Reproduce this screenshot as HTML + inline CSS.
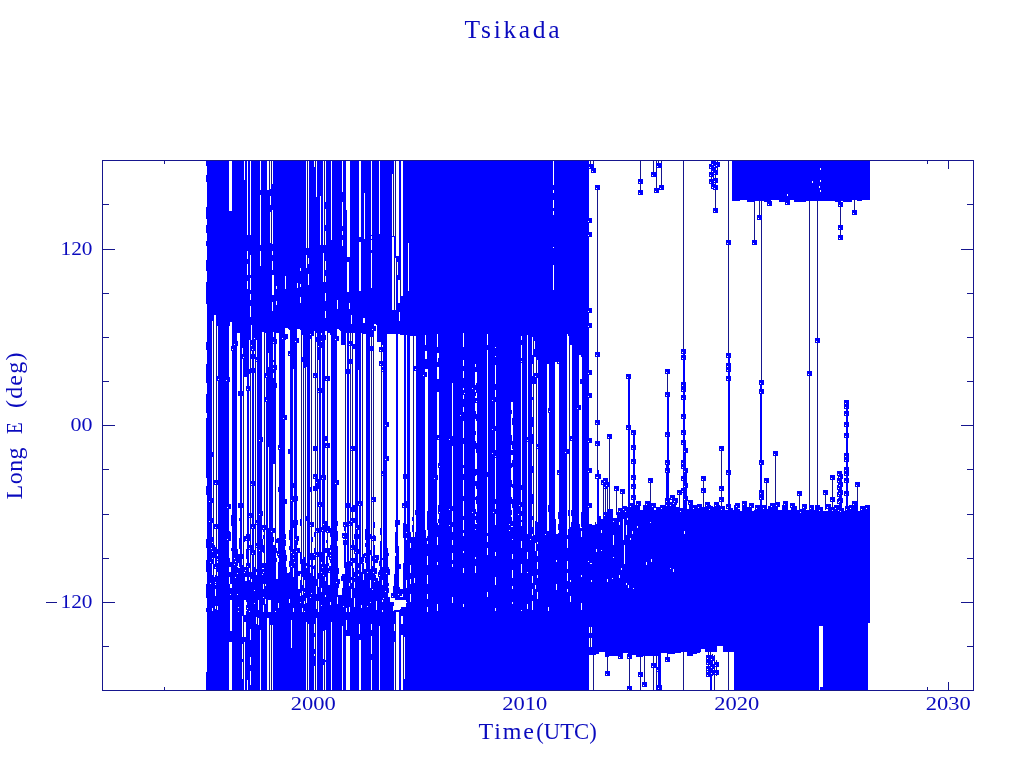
<!DOCTYPE html>
<html><head><meta charset="utf-8"><title>Tsikada</title>
<style>html,body{margin:0;padding:0;background:#fff}body{width:1024px;height:768px;overflow:hidden;font-family:"Liberation Serif",serif}svg{display:block;will-change:transform}text{font-family:"Liberation Serif",serif;fill:#0a0abe}</style></head><body>
<svg width="1024" height="768" viewBox="0 0 1024 768">
<rect width="1024" height="768" fill="#fff"/>
<g shape-rendering="crispEdges">
<path fill="#16168e" d="M102 646h7v1h-7zM967 646h7v1h-7zM102 602h13v1h-13zM961 602h13v1h-13zM102 558h7v1h-7zM967 558h7v1h-7zM102 514h7v1h-7zM967 514h7v1h-7zM102 469h7v1h-7zM967 469h7v1h-7zM102 425h13v1h-13zM961 425h13v1h-13zM102 381h7v1h-7zM967 381h7v1h-7zM102 337h7v1h-7zM967 337h7v1h-7zM102 293h7v1h-7zM967 293h7v1h-7zM102 249h13v1h-13zM961 249h13v1h-13zM102 204h7v1h-7zM967 204h7v1h-7zM164 687h1v3h-1zM164 161h1v3h-1zM927 687h1v3h-1zM927 161h1v3h-1zM313 682h1v8h-1zM313 161h1v8h-1zM525 682h1v8h-1zM525 161h1v8h-1zM737 682h1v8h-1zM737 161h1v8h-1zM948 682h1v8h-1zM948 161h1v8h-1z"/>
<path fill="#0000ff" d="M206 394h1v19h-1zM206 584h1v14h-1zM206 260h1v11h-1zM206 364h1v19h-1zM206 486h1v9h-1zM206 207h1v12h-1zM206 342h1v8h-1zM206 539h1v9h-1zM206 560h1v12h-1zM206 241h1v5h-1zM206 672h1v18h-1zM206 175h1v7h-1zM206 161h1v5h-1zM206 418h1v60h-1zM206 225h1v8h-1zM206 608h1v4h-1zM206 282h1v22h-1zM207 161h2v529h-2zM209 161h1v340h-1zM209 502h1v19h-1zM209 522h1v168h-1zM210 161h1v401h-1zM210 584h1v106h-1zM210 563h1v20h-1zM211 161h1v387h-1zM211 549h1v141h-1zM212 559h1v5h-1zM212 552h1v6h-1zM212 575h1v33h-1zM212 543h1v8h-1zM212 611h1v79h-1zM212 498h2v5h-2zM212 452h2v5h-2zM212 518h2v5h-2zM212 537h2v5h-2zM212 161h2v160h-2zM213 559h1v10h-1zM213 575h1v115h-1zM213 543h1v15h-1zM213 480h2v5h-2zM213 524h2v5h-2zM214 564h1v5h-1zM214 577h1v113h-1zM214 545h1v13h-1zM214 161h2v154h-2zM215 575h1v7h-1zM215 568h1v1h-1zM215 596h1v10h-1zM215 484h1v1h-1zM215 524h1v3h-1zM215 583h1v1h-1zM215 585h1v4h-1zM215 547h1v20h-1zM215 528h1v1h-1zM215 480h1v3h-1zM215 609h2v81h-2zM216 547h1v25h-1zM216 575h1v31h-1zM216 161h2v165h-2zM216 480h2v5h-2zM216 376h2v5h-2zM216 524h2v5h-2zM217 556h1v3h-1zM217 563h1v9h-1zM217 610h1v80h-1zM217 576h1v30h-1zM217 560h1v1h-1zM217 549h1v5h-1zM218 161h1v218h-1zM218 380h1v310h-1zM219 161h7v529h-7zM226 161h1v219h-1zM226 381h1v309h-1zM227 161h1v346h-1zM227 540h1v150h-1zM227 508h1v31h-1zM228 161h1v529h-1zM229 211h1v115h-1zM229 572h1v5h-1zM229 584h1v58h-1zM229 377h1v5h-1zM229 558h1v9h-1zM229 531h1v10h-1zM229 504h2v5h-2zM230 562h1v5h-1zM230 588h1v6h-1zM230 572h1v12h-1zM230 595h1v5h-1zM230 532h1v9h-1zM230 211h2v111h-2zM230 631h2v11h-2zM231 350h1v1h-1zM231 548h1v3h-1zM231 562h1v22h-1zM231 588h1v12h-1zM231 346h1v3h-1zM231 515h1v11h-1zM232 161h1v188h-1zM232 350h1v340h-1zM233 161h1v529h-1zM234 559h1v5h-1zM234 345h1v213h-1zM234 161h1v183h-1zM234 565h1v125h-1zM235 578h1v112h-1zM235 562h1v15h-1zM235 161h1v400h-1zM236 161h1v529h-1zM237 567h1v6h-1zM237 549h1v17h-1zM237 574h1v20h-1zM237 341h1v5h-1zM237 595h1v95h-1zM238 554h1v9h-1zM238 608h1v3h-1zM238 568h1v39h-1zM238 612h1v78h-1zM237 161h3v172h-3zM238 391h2v5h-2zM238 503h2v5h-2zM239 538h1v11h-1zM239 568h1v122h-1zM239 518h1v3h-1zM239 554h1v13h-1zM240 161h2v529h-2zM242 161h1v187h-1zM242 565h1v51h-1zM242 354h1v5h-1zM242 391h2v5h-2zM242 554h2v5h-2zM242 659h2v3h-2zM242 679h2v11h-2zM242 503h2v5h-2zM242 637h2v7h-2zM243 358h1v19h-1zM243 161h1v196h-1zM243 565h1v57h-1zM243 536h2v6h-2zM244 567h1v5h-1zM244 637h1v5h-1zM244 180h1v197h-1zM244 573h1v27h-1zM244 615h2v7h-2zM245 567h1v3h-1zM245 536h1v5h-1zM245 581h1v19h-1zM245 637h1v53h-1zM245 571h1v6h-1zM245 161h2v216h-2zM246 540h1v1h-1zM246 605h1v3h-1zM246 386h1v3h-1zM246 549h1v10h-1zM246 581h1v21h-1zM246 609h1v1h-1zM246 567h1v10h-1zM246 390h1v1h-1zM246 534h1v5h-1zM246 611h1v79h-1zM246 563h1v3h-1zM247 275h1v6h-1zM247 567h1v41h-1zM247 390h1v176h-1zM247 259h1v5h-1zM247 235h1v16h-1zM247 289h1v100h-1zM247 609h1v71h-1zM248 161h1v529h-1zM249 369h1v5h-1zM249 580h1v31h-1zM249 549h1v1h-1zM249 517h1v1h-1zM249 161h1v179h-1zM249 513h1v3h-1zM249 572h1v5h-1zM249 612h1v78h-1zM249 545h1v3h-1zM249 534h2v7h-2zM249 563h2v5h-2zM249 386h2v5h-2zM250 580h1v49h-1zM250 300h1v6h-1zM250 235h1v20h-1zM250 685h1v5h-1zM250 640h1v17h-1zM250 290h1v4h-1zM250 665h1v6h-1zM250 317h1v28h-1zM250 275h1v3h-1zM250 368h1v6h-1zM250 572h2v7h-2zM250 354h2v5h-2zM250 485h2v1h-2zM250 545h2v10h-2zM250 524h2v5h-2zM250 481h2v3h-2zM250 346h2v5h-2zM250 513h2v5h-2zM251 368h1v5h-1zM251 161h1v164h-1zM251 582h1v108h-1zM251 340h1v5h-1zM252 554h1v136h-1zM252 161h1v188h-1zM252 528h1v25h-1zM252 350h1v177h-1zM253 161h1v529h-1zM254 161h1v177h-1zM254 339h1v12h-1zM254 604h1v86h-1zM254 354h1v5h-1zM254 567h1v23h-1zM254 591h1v12h-1zM254 368h2v5h-2zM254 550h2v5h-2zM254 481h2v5h-2zM254 524h2v5h-2zM255 161h1v190h-1zM255 354h1v6h-1zM255 567h1v123h-1zM255 361h2v1h-2zM255 543h2v3h-2zM255 520h2v3h-2zM255 547h2v1h-2zM256 524h1v1h-1zM256 357h1v3h-1zM256 575h1v42h-1zM256 569h1v3h-1zM256 161h1v179h-1zM256 624h2v66h-2zM257 161h1v457h-1zM258 610h1v8h-1zM258 625h1v65h-1zM258 161h1v439h-1zM259 515h1v35h-1zM259 161h1v279h-1zM259 551h1v139h-1zM259 441h1v73h-1zM260 190h1v5h-1zM260 245h1v6h-1zM260 266h1v364h-1zM261 161h1v529h-1zM262 437h1v5h-1zM262 569h1v5h-1zM262 539h1v13h-1zM262 525h1v5h-1zM262 575h1v115h-1zM262 511h1v5h-1zM262 161h2v171h-2zM262 563h2v5h-2zM263 529h1v3h-1zM263 589h1v8h-1zM263 598h1v7h-1zM263 569h1v3h-1zM263 573h1v11h-1zM263 525h1v3h-1zM263 612h1v78h-1zM263 535h2v4h-2zM263 545h2v8h-2zM264 586h1v104h-1zM264 525h1v7h-1zM264 373h2v5h-2zM264 563h2v21h-2zM264 161h2v172h-2zM264 397h2v5h-2zM265 586h1v13h-1zM265 525h1v5h-1zM265 604h1v86h-1zM266 401h1v289h-1zM266 377h1v23h-1zM266 161h1v215h-1zM267 190h1v428h-1zM268 528h1v72h-1zM268 612h1v6h-1zM268 190h1v163h-1zM268 367h1v80h-1zM269 189h1v411h-1zM269 612h2v13h-2zM270 189h1v7h-1zM270 205h1v7h-1zM270 243h1v357h-1zM271 184h1v28h-1zM271 243h1v288h-1zM271 532h1v93h-1zM272 311h1v314h-1zM272 295h1v7h-1zM272 244h1v7h-1zM272 184h1v26h-1zM272 270h1v5h-1zM272 255h1v6h-1zM273 343h1v1h-1zM273 369h1v4h-1zM273 378h1v86h-1zM273 537h1v5h-1zM273 161h1v114h-1zM273 365h1v3h-1zM273 295h1v37h-1zM273 360h1v2h-1zM273 337h1v5h-1zM273 545h2v145h-2zM273 528h3v5h-3zM274 161h2v303h-2zM275 545h1v66h-1zM275 612h1v78h-1zM275 539h2v4h-2zM276 558h1v4h-1zM276 365h1v5h-1zM276 161h1v125h-1zM276 383h1v5h-1zM276 305h1v28h-1zM276 339h1v5h-1zM276 548h1v5h-1zM276 289h1v12h-1zM276 579h2v111h-2zM277 555h1v1h-1zM277 538h1v5h-1zM277 551h1v3h-1zM277 161h2v172h-2zM278 555h1v3h-1zM278 487h1v5h-1zM278 449h1v1h-1zM278 608h1v82h-1zM278 562h1v41h-1zM278 445h1v3h-1zM278 538h1v16h-1zM279 161h1v287h-1zM279 449h1v241h-1zM280 161h2v529h-2zM282 161h1v177h-1zM282 339h1v351h-1zM283 161h1v257h-1zM283 419h1v271h-1zM284 161h1v529h-1zM285 334h1v6h-1zM285 534h1v5h-1zM285 161h1v115h-1zM285 289h1v39h-1zM285 540h1v6h-1zM285 550h1v140h-1zM285 499h2v5h-2zM285 415h2v5h-2zM286 567h1v123h-1zM286 555h1v6h-1zM286 161h2v167h-2zM286 334h2v5h-2zM287 573h2v117h-2zM288 161h1v168h-1zM288 351h2v3h-2zM288 355h2v1h-2zM288 449h2v5h-2zM289 572h1v27h-1zM289 530h1v10h-1zM289 561h1v6h-1zM289 546h1v4h-1zM289 603h1v87h-1zM289 161h1v169h-1zM290 553h1v137h-1zM290 161h2v339h-2zM290 501h2v51h-2zM291 567h1v53h-1zM291 553h1v13h-1zM291 648h1v42h-1zM292 161h1v529h-1zM293 577h1v31h-1zM293 496h1v6h-1zM293 483h1v5h-1zM293 559h1v9h-1zM293 161h1v208h-1zM293 520h1v8h-1zM293 555h1v3h-1zM293 549h1v5h-1zM293 612h1v78h-1zM294 563h1v127h-1zM294 540h1v22h-1zM294 161h1v378h-1zM295 540h1v150h-1zM295 342h1v197h-1zM295 161h1v180h-1zM296 161h1v390h-1zM296 552h1v138h-1zM297 536h1v9h-1zM297 548h1v142h-1zM297 161h1v122h-1zM297 496h1v5h-1zM297 288h1v41h-1zM297 520h1v5h-1zM297 338h2v5h-2zM298 536h1v5h-1zM298 161h2v168h-2zM298 571h2v5h-2zM298 589h2v101h-2zM298 548h2v5h-2zM300 271h1v13h-1zM300 287h1v10h-1zM300 552h1v12h-1zM300 603h1v87h-1zM300 596h1v6h-1zM300 303h1v27h-1zM300 571h1v3h-1zM300 161h1v107h-1zM300 580h2v13h-2zM300 519h2v7h-2zM301 595h1v95h-1zM301 552h1v25h-1zM301 161h2v174h-2zM301 357h2v5h-2zM302 595h1v13h-1zM302 585h1v6h-1zM302 559h1v18h-1zM303 593h1v18h-1zM303 585h1v7h-1zM302 612h3v78h-3zM303 557h2v23h-2zM304 588h1v4h-1zM304 604h1v7h-1zM304 593h1v8h-1zM303 161h3v207h-3zM305 603h1v87h-1zM305 557h1v44h-1zM305 516h2v5h-2zM306 568h1v30h-1zM306 248h1v7h-1zM306 268h1v99h-1zM306 603h1v19h-1zM306 563h1v3h-1zM307 264h1v360h-1zM307 248h2v10h-2zM308 285h1v339h-1zM308 264h1v10h-1zM309 161h1v529h-1zM310 522h1v3h-1zM310 598h1v92h-1zM310 335h1v4h-1zM310 526h1v1h-1zM310 553h1v7h-1zM310 161h1v173h-1zM310 573h1v24h-1zM310 565h1v2h-1zM310 487h2v5h-2zM311 553h1v40h-1zM311 594h1v96h-1zM311 161h1v178h-1zM311 537h2v5h-2zM312 553h1v137h-1zM311 522h3v5h-3zM312 161h2v175h-2zM313 566h1v3h-1zM313 553h1v7h-1zM313 576h1v114h-1zM313 474h2v3h-2zM313 478h2v1h-2zM313 373h2v3h-2zM313 486h2v5h-2zM313 377h2v1h-2zM314 555h1v5h-1zM314 548h1v6h-1zM314 167h1v164h-1zM314 649h2v5h-2zM314 565h2v59h-2zM314 532h2v5h-2zM314 633h2v4h-2zM314 656h2v10h-2zM315 548h1v12h-1zM315 167h1v166h-1zM315 528h2v3h-2zM315 474h2v8h-2zM315 483h2v8h-2zM315 337h2v5h-2zM316 609h1v9h-1zM316 197h1v136h-1zM316 579h1v7h-1zM316 594h1v7h-1zM316 532h1v1h-1zM316 556h1v1h-1zM316 552h1v3h-1zM313 446h5v5h-5zM315 373h3v5h-3zM317 573h1v13h-1zM317 474h1v17h-1zM317 609h1v81h-1zM317 392h2v1h-2zM317 552h2v5h-2zM317 587h2v14h-2zM317 347h2v13h-2zM317 528h2v5h-2zM317 388h2v3h-2zM317 161h2v185h-2zM317 502h2v5h-2zM318 479h1v10h-1zM318 573h1v6h-1zM318 612h1v78h-1zM319 506h1v184h-1zM319 161h1v344h-1zM320 245h1v445h-1zM320 161h1v35h-1zM321 527h1v5h-1zM321 592h1v13h-1zM321 342h1v6h-1zM321 564h1v8h-1zM321 606h1v84h-1zM321 573h1v15h-1zM321 335h1v6h-1zM321 502h1v5h-1zM321 552h1v10h-1zM321 475h1v5h-1zM321 161h1v172h-1zM321 388h1v5h-1zM322 525h1v5h-1zM322 479h1v45h-1zM322 568h1v122h-1zM322 161h1v317h-1zM322 531h1v36h-1zM323 576h1v55h-1zM323 525h1v50h-1zM323 282h1v242h-1zM323 245h1v8h-1zM323 659h2v6h-2zM324 282h1v349h-1zM324 245h2v16h-2zM324 225h2v6h-2zM324 270h2v6h-2zM324 202h2v7h-2zM325 581h1v14h-1zM325 282h1v11h-1zM325 318h1v13h-1zM325 597h1v33h-1zM325 301h1v10h-1zM325 376h1v5h-1zM325 475h1v5h-1zM325 521h1v11h-1zM325 335h1v5h-1zM325 443h1v5h-1zM325 660h1v2h-1zM325 564h1v13h-1zM325 548h2v5h-2zM326 376h1v3h-1zM326 443h1v3h-1zM326 521h1v12h-1zM326 556h1v134h-1zM326 161h1v170h-1zM326 447h1v1h-1zM326 380h1v1h-1zM325 436h3v5h-3zM326 540h2v3h-2zM327 521h1v10h-1zM327 548h1v142h-1zM327 532h1v1h-1zM328 548h1v9h-1zM328 568h1v5h-1zM328 563h1v3h-1zM327 376h3v5h-3zM327 161h3v172h-3zM327 443h3v5h-3zM328 526h2v7h-2zM328 585h2v105h-2zM329 559h1v1h-1zM329 572h1v1h-1zM329 566h1v5h-1zM329 548h1v10h-1zM330 566h1v36h-1zM330 161h1v174h-1zM330 559h1v4h-1zM330 545h1v5h-1zM330 528h1v9h-1zM330 556h1v2h-1zM330 605h1v85h-1zM330 552h1v3h-1zM331 240h1v382h-1zM332 161h3v529h-3zM335 161h1v178h-1zM335 484h1v206h-1zM335 340h1v143h-1zM336 583h1v107h-1zM336 161h1v421h-1zM337 309h1v20h-1zM337 161h1v139h-1zM337 521h1v5h-1zM337 604h1v86h-1zM337 546h1v51h-1zM337 531h1v10h-1zM337 480h2v5h-2zM337 336h2v5h-2zM338 161h1v168h-1zM338 568h1v6h-1zM338 579h1v9h-1zM339 161h1v169h-1zM339 579h1v5h-1zM340 161h1v170h-1zM338 595h4v95h-4zM341 576h1v5h-1zM341 161h1v184h-1zM342 192h1v10h-1zM342 226h1v5h-1zM342 588h1v38h-1zM342 537h1v1h-1zM342 574h1v7h-1zM342 246h1v99h-1zM342 235h1v5h-1zM342 533h2v3h-2zM343 526h1v1h-1zM343 537h1v2h-1zM343 607h1v83h-1zM343 540h1v5h-1zM343 574h1v32h-1zM343 522h2v3h-2zM344 526h1v5h-1zM344 540h1v28h-1zM344 574h1v116h-1zM343 161h3v184h-3zM345 522h1v9h-1zM345 540h1v150h-1zM344 533h3v6h-3zM345 369h2v5h-2zM345 503h2v5h-2zM346 562h1v46h-1zM346 630h1v6h-1zM346 522h1v5h-1zM346 612h1v8h-1zM346 210h1v123h-1zM346 540h1v5h-1zM347 257h2v5h-2zM347 292h2v344h-2zM349 309h1v24h-1zM349 561h1v22h-1zM349 521h1v3h-1zM349 257h1v46h-1zM349 341h1v3h-1zM349 525h1v1h-1zM349 503h1v5h-1zM349 345h1v1h-1zM349 612h1v24h-1zM349 586h1v21h-1zM349 369h2v5h-2zM350 503h1v9h-1zM350 518h1v8h-1zM350 558h1v132h-1zM350 161h1v172h-1zM350 341h2v5h-2zM350 549h2v1h-2zM350 446h2v3h-2zM350 450h2v1h-2zM350 545h2v3h-2zM351 583h1v6h-1zM351 507h1v5h-1zM351 598h1v92h-1zM351 562h1v4h-1zM351 161h1v154h-1zM351 558h1v3h-1zM351 324h1v9h-1zM351 522h1v4h-1zM351 518h1v3h-1zM351 577h1v3h-1zM349 359h4v5h-4zM352 558h1v8h-1zM352 518h1v8h-1zM352 341h1v8h-1zM352 540h2v10h-2zM352 568h2v122h-2zM352 446h3v5h-3zM352 161h3v172h-3zM352 505h3v7h-3zM353 558h2v5h-2zM353 518h2v5h-2zM353 344h2v5h-2zM354 553h1v1h-1zM354 578h1v4h-1zM354 534h1v5h-1zM354 588h1v10h-1zM354 545h1v7h-1zM354 607h1v83h-1zM354 572h1v5h-1zM355 553h1v137h-1zM355 529h1v23h-1zM355 161h2v367h-2zM356 529h1v161h-1zM357 161h1v529h-1zM358 501h1v5h-1zM358 161h1v209h-1zM358 563h1v5h-1zM358 525h1v5h-1zM358 576h1v114h-1zM358 570h1v4h-1zM358 534h1v5h-1zM358 549h1v5h-1zM359 634h1v6h-1zM359 291h1v213h-1zM359 505h1v119h-1zM359 237h2v5h-2zM360 291h1v349h-1zM361 557h1v7h-1zM361 572h1v33h-1zM361 608h1v82h-1zM361 161h1v172h-1zM361 501h2v5h-2zM362 161h1v173h-1zM362 554h1v136h-1zM363 161h1v157h-1zM363 554h1v8h-1zM363 580h1v110h-1zM363 563h1v11h-1zM363 323h2v11h-2zM364 161h1v32h-1zM364 239h1v79h-1zM364 553h1v5h-1zM364 569h2v121h-2zM365 543h1v4h-1zM365 557h1v6h-1zM365 529h1v11h-1zM365 553h1v3h-1zM365 161h1v173h-1zM366 161h1v529h-1zM367 573h1v33h-1zM367 161h1v411h-1zM367 607h1v83h-1zM368 161h2v529h-2zM370 569h1v11h-1zM370 588h1v14h-1zM370 161h1v176h-1zM370 603h1v87h-1zM370 550h2v5h-2zM370 534h2v5h-2zM371 654h1v6h-1zM371 288h1v49h-1zM371 235h1v1h-1zM371 566h1v58h-1zM371 630h1v6h-1zM371 250h1v3h-1zM371 239h1v1h-1zM371 501h2v1h-2zM371 540h2v1h-2zM371 556h2v5h-2zM371 497h2v3h-2zM372 566h1v23h-1zM372 161h1v168h-1zM372 330h1v7h-1zM372 590h1v100h-1zM372 536h1v3h-1zM370 346h4v5h-4zM373 161h1v176h-1zM373 545h1v27h-1zM373 573h1v117h-1zM373 522h2v6h-2zM373 535h2v6h-2zM374 545h1v36h-1zM374 582h1v108h-1zM373 497h3v5h-3zM374 161h2v163h-2zM374 326h2v5h-2zM375 559h1v4h-1zM375 536h1v5h-1zM375 575h1v115h-1zM375 555h1v3h-1zM375 568h2v6h-2zM376 161h1v164h-1zM376 610h1v80h-1zM376 578h1v23h-1zM376 555h2v8h-2zM377 578h1v112h-1zM377 161h2v181h-2zM378 555h1v5h-1zM378 572h1v3h-1zM378 581h1v109h-1zM378 576h1v1h-1zM379 561h1v5h-1zM379 570h1v5h-1zM379 576h1v50h-1zM379 234h1v108h-1zM379 361h2v3h-2zM379 347h2v3h-2zM379 365h2v1h-2zM379 351h2v1h-2zM380 161h1v181h-1zM380 528h2v7h-2zM380 541h2v149h-2zM381 161h2v184h-2zM381 475h2v1h-2zM381 367h2v3h-2zM381 371h2v1h-2zM381 471h2v3h-2zM381 361h2v5h-2zM381 347h2v5h-2zM382 612h1v78h-1zM382 585h1v15h-1zM382 602h1v8h-1zM382 567h1v13h-1zM382 558h1v2h-1zM383 599h1v91h-1zM383 161h1v437h-1zM384 161h1v529h-1zM385 460h1v131h-1zM385 426h1v33h-1zM385 592h1v98h-1zM385 161h1v264h-1zM386 574h1v116h-1zM386 161h1v412h-1zM387 548h1v142h-1zM387 422h2v5h-2zM387 456h2v5h-2zM388 583h1v3h-1zM388 567h1v8h-1zM388 553h1v3h-1zM388 588h1v5h-1zM388 597h2v93h-2zM389 569h1v6h-1zM387 161h5v173h-5zM390 602h3v88h-3zM391 597h2v1h-2zM391 593h2v3h-2zM392 161h2v13h-2zM392 236h2v1h-2zM393 586h1v12h-1zM393 602h1v4h-1zM393 611h1v79h-1zM394 574h1v24h-1zM392 310h4v24h-4zM394 631h2v11h-2zM394 610h2v14h-2zM394 236h2v22h-2zM395 520h1v7h-1zM395 532h1v21h-1zM395 556h1v44h-1zM396 256h2v6h-2zM396 275h2v325h-2zM396 610h3v2h-3zM398 303h1v31h-1zM398 256h1v24h-1zM398 546h1v48h-1zM398 595h1v5h-1zM398 520h2v5h-2zM399 303h1v9h-1zM399 610h1v80h-1zM399 321h1v13h-1zM399 587h1v13h-1zM399 564h2v5h-2zM399 161h2v119h-2zM400 609h1v81h-1zM400 589h2v7h-2zM400 296h3v39h-3zM400 597h3v3h-3zM401 624h2v11h-2zM401 607h2v9h-2zM402 589h1v5h-1zM402 503h2v3h-2zM402 507h2v1h-2zM403 523h1v15h-1zM403 161h1v174h-1zM403 474h1v5h-1zM403 563h1v37h-1zM403 607h2v30h-2zM403 679h2v11h-2zM404 161h2v439h-2zM405 607h1v83h-1zM406 524h1v8h-1zM406 588h1v14h-1zM406 161h1v174h-1zM406 540h1v40h-1zM406 474h1v5h-1zM406 501h1v7h-1zM406 603h1v87h-1zM406 533h1v5h-1zM407 161h1v529h-1zM408 161h1v82h-1zM408 291h1v399h-1zM409 161h1v529h-1zM410 584h1v10h-1zM410 532h1v11h-1zM410 573h1v6h-1zM410 602h1v88h-1zM410 548h1v17h-1zM411 537h3v153h-3zM412 525h2v7h-2zM412 517h2v4h-2zM413 366h2v5h-2zM414 583h1v107h-1zM414 537h1v41h-1zM410 161h6v175h-6zM415 370h1v1h-1zM415 510h1v5h-1zM415 532h1v158h-1zM415 366h1v3h-1zM416 161h7v529h-7zM423 376h1v314h-1zM423 161h1v214h-1zM424 161h1v529h-1zM425 345h1v6h-1zM425 161h1v174h-1zM425 530h1v160h-1zM425 359h2v10h-2zM425 372h2v5h-2zM426 161h1v190h-1zM426 538h1v152h-1zM427 584h1v10h-1zM427 544h1v12h-1zM427 565h1v10h-1zM427 536h1v5h-1zM427 511h1v19h-1zM427 599h1v8h-1zM427 161h1v208h-1zM427 612h1v78h-1zM428 161h6v529h-6zM434 161h1v317h-1zM434 479h1v211h-1zM435 161h2v529h-2zM437 362h1v5h-1zM437 523h1v14h-1zM437 565h1v39h-1zM437 435h1v5h-1zM437 347h1v6h-1zM437 161h1v173h-1zM437 545h1v17h-1zM437 475h1v5h-1zM437 611h1v79h-1zM437 379h2v13h-2zM438 513h1v1h-1zM438 435h1v3h-1zM438 358h1v9h-1zM438 439h1v1h-1zM438 161h1v192h-1zM438 525h1v165h-1zM438 463h1v3h-1zM438 519h1v4h-1zM438 467h1v1h-1zM438 505h1v7h-1zM439 513h1v177h-1zM439 467h1v45h-1zM439 161h1v305h-1zM440 161h9v529h-9zM449 510h1v15h-1zM449 161h1v278h-1zM449 440h1v69h-1zM449 526h1v164h-1zM450 161h2v529h-2zM452 532h1v8h-1zM452 161h1v222h-1zM452 522h1v5h-1zM452 506h1v5h-1zM452 545h1v8h-1zM452 603h1v87h-1zM452 436h1v10h-1zM452 567h1v30h-1zM452 560h1v4h-1zM453 161h7v529h-7zM460 416h1v274h-1zM460 161h1v254h-1zM461 161h2v529h-2zM463 399h1v8h-1zM463 438h1v6h-1zM463 465h1v3h-1zM463 536h1v15h-1zM463 366h1v5h-1zM463 474h1v6h-1zM463 530h1v3h-1zM463 412h1v9h-1zM463 390h1v5h-1zM463 347h1v13h-1zM463 378h1v10h-1zM463 573h1v31h-1zM463 516h1v4h-1zM463 496h1v5h-1zM463 161h1v172h-1zM463 553h1v15h-1zM463 607h1v83h-1zM464 394h1v296h-1zM464 161h1v232h-1zM465 161h7v529h-7zM472 161h1v227h-1zM472 389h1v123h-1zM472 513h1v177h-1zM473 161h2v529h-2zM475 398h1v5h-1zM475 559h1v7h-1zM475 392h1v4h-1zM475 161h1v203h-1zM475 431h1v4h-1zM475 509h1v5h-1zM475 469h1v7h-1zM475 481h1v5h-1zM475 411h1v8h-1zM475 497h1v3h-1zM475 367h1v5h-1zM475 516h1v4h-1zM475 441h1v8h-1zM475 530h1v27h-1zM475 573h1v117h-1zM475 524h1v5h-1zM475 385h1v5h-1zM476 414h1v7h-1zM476 402h1v1h-1zM476 443h1v10h-1zM476 481h1v8h-1zM476 161h1v211h-1zM476 512h1v11h-1zM476 398h1v3h-1zM476 469h1v6h-1zM476 496h1v8h-1zM476 524h1v166h-1zM476 383h1v10h-1zM477 161h10v529h-10zM487 555h1v37h-1zM487 345h1v5h-1zM487 533h1v3h-1zM487 161h1v173h-1zM487 597h1v93h-1zM487 542h1v6h-1zM487 472h1v5h-1zM488 161h4v529h-4zM492 454h1v236h-1zM492 161h1v239h-1zM492 430h1v23h-1zM492 401h1v28h-1zM493 161h1v351h-1zM493 513h1v177h-1zM494 161h1v529h-1zM495 357h1v8h-1zM495 426h1v5h-1zM495 509h1v5h-1zM495 525h1v27h-1zM495 450h1v6h-1zM495 161h1v186h-1zM495 499h1v5h-1zM495 556h1v21h-1zM495 384h1v6h-1zM495 348h1v8h-1zM495 611h1v79h-1zM495 457h1v1h-1zM495 397h1v5h-1zM495 585h1v23h-1zM496 161h13v529h-13zM509 531h1v159h-1zM509 161h1v363h-1zM509 525h1v5h-1zM510 161h1v529h-1zM511 435h1v10h-1zM511 510h1v5h-1zM511 527h1v163h-1zM511 497h1v7h-1zM511 480h1v7h-1zM511 517h1v9h-1zM511 410h1v4h-1zM511 463h1v5h-1zM511 161h2v241h-2zM511 450h2v5h-2zM512 559h1v11h-1zM512 540h1v14h-1zM512 418h1v7h-1zM512 578h1v8h-1zM512 499h1v9h-1zM512 604h1v86h-1zM512 484h1v4h-1zM512 521h1v5h-1zM512 589h1v13h-1zM512 441h1v8h-1zM512 460h1v7h-1zM512 527h1v12h-1zM513 161h5v529h-5zM518 515h1v175h-1zM518 161h1v353h-1zM519 506h1v184h-1zM519 161h1v344h-1zM520 161h1v529h-1zM521 526h1v15h-1zM521 548h1v16h-1zM521 611h1v79h-1zM521 362h1v1h-1zM521 573h1v37h-1zM521 485h1v5h-1zM521 502h1v5h-1zM521 511h1v5h-1zM521 520h1v2h-1zM521 340h1v5h-1zM521 161h1v175h-1zM521 358h1v3h-1zM522 161h5v529h-5zM527 161h1v174h-1zM527 559h1v13h-1zM527 573h1v31h-1zM527 534h1v18h-1zM527 609h1v81h-1zM527 437h1v3h-1zM527 441h1v1h-1zM528 161h2v529h-2zM530 540h1v150h-1zM530 161h1v378h-1zM531 161h1v529h-1zM532 583h1v6h-1zM532 610h1v80h-1zM532 536h1v40h-1zM532 595h1v6h-1zM532 161h1v176h-1zM532 376h1v8h-1zM532 355h1v9h-1zM532 466h2v7h-2zM532 434h2v10h-2zM532 417h2v10h-2zM532 397h2v3h-2zM532 494h2v10h-2zM532 516h2v4h-2zM532 527h2v7h-2zM533 349h1v15h-1zM533 373h2v11h-2zM533 161h2v180h-2zM533 535h2v155h-2zM534 349h1v8h-1zM535 377h1v7h-1zM535 161h1v196h-1zM535 589h1v101h-1zM535 373h1v3h-1zM535 551h1v34h-1zM535 521h2v22h-2zM536 373h1v11h-1zM536 544h1v146h-1zM536 161h2v199h-2zM536 444h2v3h-2zM536 448h2v1h-2zM537 544h1v7h-1zM537 373h1v5h-1zM537 556h1v6h-1zM537 578h1v14h-1zM537 522h1v20h-1zM537 569h1v6h-1zM537 599h1v91h-1zM538 161h7v529h-7zM545 161h1v373h-1zM545 535h1v155h-1zM546 161h1v529h-1zM547 531h1v159h-1zM547 161h2v203h-2zM548 531h1v76h-1zM548 408h1v3h-1zM548 412h1v1h-1zM548 611h1v79h-1zM548 505h1v7h-1zM549 161h1v250h-1zM549 412h1v278h-1zM550 161h3v529h-3zM553 290h1v400h-1zM553 185h1v5h-1zM553 215h1v32h-1zM553 208h1v3h-1zM553 193h1v7h-1zM553 248h1v17h-1zM554 161h1v529h-1zM555 519h1v171h-1zM556 534h1v26h-1zM556 562h1v22h-1zM556 590h1v100h-1zM557 534h1v156h-1zM555 161h4v201h-4zM557 363h2v1h-2zM557 470h2v3h-2zM557 474h2v1h-2zM558 524h1v6h-1zM558 533h1v157h-1zM558 512h1v7h-1zM559 161h6v529h-6zM565 453h1v237h-1zM565 161h1v291h-1zM566 161h1v529h-1zM567 548h1v13h-1zM567 569h1v4h-1zM567 535h1v4h-1zM567 161h1v173h-1zM567 592h1v98h-1zM567 581h1v8h-1zM568 529h1v161h-1zM568 161h1v175h-1zM567 449h3v5h-3zM568 510h2v6h-2zM569 527h1v163h-1zM569 436h2v5h-2zM570 527h1v53h-1zM570 602h1v88h-1zM570 582h1v14h-1zM569 161h3v184h-3zM571 440h1v1h-1zM571 522h1v168h-1zM571 436h1v3h-1zM571 510h1v6h-1zM572 161h5v529h-5zM577 409h1v281h-1zM577 161h1v247h-1zM578 161h1v529h-1zM579 524h1v166h-1zM579 161h2v194h-2zM579 405h2v5h-2zM580 528h1v162h-1zM580 379h2v5h-2zM581 528h1v3h-1zM581 610h1v80h-1zM581 161h1v196h-1zM581 537h1v38h-1zM581 512h1v15h-1zM581 577h1v26h-1zM582 161h6v529h-6zM588 374h1v22h-1zM588 222h1v13h-1zM588 327h1v46h-1zM588 236h1v75h-1zM588 161h1v60h-1zM588 442h1v29h-1zM588 312h1v14h-1zM588 507h1v54h-1zM588 562h1v128h-1zM588 397h1v44h-1zM588 472h1v34h-1zM589 524h1v103h-1zM589 164h1v3h-1zM589 168h1v1h-1zM590 164h1v5h-1zM590 564h1v63h-1zM589 218h3v5h-3zM589 393h3v5h-3zM589 633h3v5h-3zM589 647h3v8h-3zM589 438h3v5h-3zM589 323h3v5h-3zM589 503h3v5h-3zM589 232h3v5h-3zM589 370h3v5h-3zM589 468h3v5h-3zM589 308h3v5h-3zM590 524h2v39h-2zM591 582h1v45h-1zM591 564h1v16h-1zM591 164h2v7h-2zM591 172h2v1h-2zM593 164h1v9h-1zM592 525h3v130h-3zM594 168h2v5h-2zM595 524h1v131h-1zM595 474h2v3h-2zM595 185h2v3h-2zM595 424h2v1h-2zM595 478h2v1h-2zM595 189h2v1h-2zM595 441h2v3h-2zM595 445h2v1h-2zM595 356h2v1h-2zM595 352h2v3h-2zM595 420h2v3h-2zM596 552h1v102h-1zM596 524h1v25h-1zM597 470h1v7h-1zM597 478h1v176h-1zM598 470h1v184h-1zM597 352h3v5h-3zM597 420h3v5h-3zM597 185h3v5h-3zM597 441h3v5h-3zM599 474h2v5h-2zM599 516h2v136h-2zM601 551h1v101h-1zM601 533h1v17h-1zM601 519h1v11h-1zM601 484h2v1h-2zM601 480h2v3h-2zM602 519h1v133h-1zM603 478h1v9h-1zM603 488h2v1h-2zM603 516h2v136h-2zM603 512h2v3h-2zM604 482h1v5h-1zM604 478h1v3h-1zM605 478h1v11h-1zM605 512h2v145h-2zM605 671h2v3h-2zM605 675h2v1h-2zM606 486h1v3h-1zM606 478h1v7h-1zM607 509h1v70h-1zM607 478h1v11h-1zM607 582h1v75h-1zM607 434h2v3h-2zM607 438h2v1h-2zM608 509h1v148h-1zM607 671h3v5h-3zM608 482h2v5h-2zM609 509h3v147h-3zM609 434h3v5h-3zM612 509h1v69h-1zM612 579h1v77h-1zM613 558h1v98h-1zM613 522h1v13h-1zM613 518h1v3h-1zM613 545h1v12h-1zM614 490h2v1h-2zM614 486h2v3h-2zM614 518h3v138h-3zM616 512h1v3h-1zM617 512h1v144h-1zM616 486h3v5h-3zM618 512h1v145h-1zM618 658h2v1h-2zM618 508h2v3h-2zM619 512h1v10h-1zM619 578h1v79h-1zM619 525h1v50h-1zM620 508h1v151h-1zM620 493h2v1h-2zM620 489h2v3h-2zM621 570h1v89h-1zM621 508h1v60h-1zM622 506h1v153h-1zM623 510h1v9h-1zM623 540h1v113h-1zM623 506h1v3h-1zM622 489h3v5h-3zM624 506h1v39h-1zM624 564h1v89h-1zM625 512h1v141h-1zM625 506h1v5h-1zM626 506h1v19h-1zM626 535h1v48h-1zM626 585h1v68h-1zM626 374h2v3h-2zM626 378h2v1h-2zM626 425h2v3h-2zM626 429h2v1h-2zM627 520h1v133h-1zM627 507h1v11h-1zM627 654h1v3h-1zM627 658h2v1h-2zM627 686h2v3h-2zM628 588h1v69h-1zM628 374h1v211h-1zM629 374h1v285h-1zM630 507h1v31h-1zM630 503h1v3h-1zM630 540h1v119h-1zM630 374h1v5h-1zM630 425h1v5h-1zM629 686h3v4h-3zM631 503h1v156h-1zM631 434h2v1h-2zM631 479h2v1h-2zM631 488h2v1h-2zM631 463h2v1h-2zM631 449h2v1h-2zM631 430h2v3h-2zM631 495h2v3h-2zM631 475h2v3h-2zM631 459h2v3h-2zM631 499h2v1h-2zM631 445h2v3h-2zM631 484h2v3h-2zM632 503h1v28h-1zM632 534h1v121h-1zM633 589h1v66h-1zM633 430h1v158h-1zM634 430h1v225h-1zM635 484h1v5h-1zM635 445h1v5h-1zM635 505h1v150h-1zM635 430h1v5h-1zM635 495h1v5h-1zM635 475h1v5h-1zM635 459h1v5h-1zM636 505h1v152h-1zM636 501h2v3h-2zM637 528h1v129h-1zM637 505h1v21h-1zM638 501h2v156h-2zM638 672h2v3h-2zM638 183h2v1h-2zM638 190h2v3h-2zM638 179h2v3h-2zM638 194h2v1h-2zM638 676h2v1h-2zM640 501h1v5h-1zM640 510h3v147h-3zM640 672h3v5h-3zM640 190h3v5h-3zM640 179h3v5h-3zM642 682h2v3h-2zM642 686h2v1h-2zM643 505h3v151h-3zM644 682h3v5h-3zM645 501h2v3h-2zM646 565h1v91h-1zM646 505h1v57h-1zM647 501h3v155h-3zM648 482h2v1h-2zM648 478h2v3h-2zM650 523h1v133h-1zM650 501h1v21h-1zM651 562h1v94h-1zM651 503h1v56h-1zM650 478h3v5h-3zM651 172h2v3h-2zM651 663h2v3h-2zM651 176h2v1h-2zM651 667h2v1h-2zM652 503h1v3h-1zM652 507h1v149h-1zM653 503h1v153h-1zM653 663h3v5h-3zM654 188h2v3h-2zM654 510h2v146h-2zM654 192h2v1h-2zM654 503h2v5h-2zM653 172h4v5h-4zM656 663h1v7h-1zM656 167h2v1h-2zM656 507h2v149h-2zM656 671h2v1h-2zM656 685h2v5h-2zM656 163h2v3h-2zM657 667h1v3h-1zM656 188h3v5h-3zM658 689h1v1h-1zM658 507h1v181h-1zM659 507h1v183h-1zM659 185h1v5h-1zM660 189h1v1h-1zM660 185h1v3h-1zM660 505h1v185h-1zM658 163h4v5h-4zM661 509h1v144h-1zM661 505h1v3h-1zM661 685h1v5h-1zM661 185h3v5h-3zM662 505h3v148h-3zM665 472h1v1h-1zM665 464h1v1h-1zM665 502h1v151h-1zM665 468h1v3h-1zM665 498h1v3h-1zM665 460h2v3h-2zM665 657h2v3h-2zM665 432h2v3h-2zM665 373h2v1h-2zM665 661h2v1h-2zM665 436h2v1h-2zM665 392h2v3h-2zM665 369h2v3h-2zM665 396h2v1h-2zM666 506h1v147h-1zM666 502h1v3h-1zM666 472h1v29h-1zM666 464h1v7h-1zM667 392h2v262h-2zM667 369h3v5h-3zM667 657h3v5h-3zM669 498h1v156h-1zM669 460h1v5h-1zM669 432h1v5h-1zM669 468h1v5h-1zM669 392h1v5h-1zM670 495h1v5h-1zM670 506h1v62h-1zM670 502h1v3h-1zM670 569h1v85h-1zM671 499h1v1h-1zM671 495h1v3h-1zM671 502h1v152h-1zM672 495h1v159h-1zM673 495h1v8h-1zM673 504h1v65h-1zM673 572h1v82h-1zM674 495h1v6h-1zM674 502h1v152h-1zM675 498h1v155h-1zM676 498h1v7h-1zM677 498h1v5h-1zM677 494h2v1h-2zM677 490h2v3h-2zM676 507h4v146h-4zM679 490h2v5h-2zM680 512h1v141h-1zM680 508h1v3h-1zM681 488h1v7h-1zM681 434h2v1h-2zM681 444h2v1h-2zM681 460h2v3h-2zM681 414h2v3h-2zM681 480h2v1h-2zM681 508h2v144h-2zM681 355h2v3h-2zM681 353h2v1h-2zM681 399h2v1h-2zM681 386h2v4h-2zM681 418h2v1h-2zM681 476h2v3h-2zM681 468h2v1h-2zM681 430h2v3h-2zM681 391h2v1h-2zM681 440h2v3h-2zM681 349h2v3h-2zM681 359h2v1h-2zM681 382h2v3h-2zM681 395h2v3h-2zM681 464h2v3h-2zM682 488h1v3h-1zM682 492h1v1h-1zM683 500h1v152h-1zM683 472h2v14h-2zM683 452h2v19h-2zM683 349h2v102h-2zM683 487h2v12h-2zM684 500h1v31h-1zM684 534h1v118h-1zM685 355h1v5h-1zM685 349h1v5h-1zM685 440h1v212h-1zM685 382h1v10h-1zM685 430h1v5h-1zM685 414h1v5h-1zM685 395h1v5h-1zM686 468h1v184h-1zM686 448h2v5h-2zM687 483h1v5h-1zM687 496h1v5h-1zM687 468h1v5h-1zM687 509h2v147h-2zM688 504h1v1h-1zM688 500h2v3h-2zM689 504h1v152h-1zM690 500h3v156h-3zM693 505h1v3h-1zM693 509h1v145h-1zM694 505h3v149h-3zM697 504h1v149h-1zM698 504h1v3h-1zM698 508h1v145h-1zM699 504h1v149h-1zM700 504h1v148h-1zM701 504h1v145h-1zM701 476h2v3h-2zM701 488h2v3h-2zM701 480h2v1h-2zM701 492h2v1h-2zM702 507h3v142h-3zM703 488h3v5h-3zM703 476h3v5h-3zM705 506h2v146h-2zM705 502h2v3h-2zM706 659h2v4h-2zM706 672h2v3h-2zM706 666h2v3h-2zM706 664h2v1h-2zM706 670h2v1h-2zM706 655h2v3h-2zM706 676h2v1h-2zM707 502h2v150h-2zM708 655h2v10h-2zM708 666h2v11h-2zM709 502h1v7h-1zM709 510h1v142h-1zM709 172h2v3h-2zM709 183h2v1h-2zM709 176h2v1h-2zM709 179h2v3h-2zM709 164h2v3h-2zM709 168h2v1h-2zM710 505h1v147h-1zM710 655h1v35h-1zM711 161h1v10h-1zM711 660h1v7h-1zM711 674h1v16h-1zM711 655h1v4h-1zM711 668h1v5h-1zM711 179h2v8h-2zM711 172h2v5h-2zM711 506h2v146h-2zM711 188h2v1h-2zM712 165h1v6h-1zM712 655h1v21h-1zM712 161h1v3h-1zM713 664h1v5h-1zM713 178h1v12h-1zM713 161h1v16h-1zM713 507h1v145h-1zM713 212h2v1h-2zM713 670h2v5h-2zM713 208h2v3h-2zM713 656h2v5h-2zM714 178h1v3h-1zM714 174h1v1h-1zM714 189h1v1h-1zM714 182h1v1h-1zM714 662h1v7h-1zM714 167h1v6h-1zM714 184h1v4h-1zM714 161h1v5h-1zM714 502h2v3h-2zM714 506h2v146h-2zM715 161h1v14h-1zM715 670h1v3h-1zM715 674h1v1h-1zM715 662h1v3h-1zM715 184h1v6h-1zM715 666h1v1h-1zM716 166h1v2h-1zM716 162h1v3h-1zM716 502h1v150h-1zM715 208h3v5h-3zM715 178h3v5h-3zM716 185h2v5h-2zM716 170h2v5h-2zM717 162h1v6h-1zM716 662h3v5h-3zM716 670h3v5h-3zM717 502h2v144h-2zM718 162h2v5h-2zM719 505h1v141h-1zM719 501h2v1h-2zM719 486h2v3h-2zM719 497h2v3h-2zM719 490h2v1h-2zM719 446h2v3h-2zM719 450h2v1h-2zM720 506h1v140h-1zM721 510h1v136h-1zM721 506h1v3h-1zM722 506h1v140h-1zM721 497h3v5h-3zM721 446h3v5h-3zM721 486h3v5h-3zM723 506h2v146h-2zM725 510h3v142h-3zM726 240h2v3h-2zM726 508h2v1h-2zM726 367h2v3h-2zM726 376h2v3h-2zM726 244h2v1h-2zM726 363h2v3h-2zM726 371h2v1h-2zM726 470h2v3h-2zM726 504h2v3h-2zM726 474h2v1h-2zM726 353h2v3h-2zM726 380h2v1h-2zM726 357h2v1h-2zM728 353h2v299h-2zM728 240h3v5h-3zM730 353h1v5h-1zM730 504h1v148h-1zM730 376h1v5h-1zM730 363h1v9h-1zM730 470h1v5h-1zM731 508h2v144h-2zM733 510h1v142h-1zM734 505h1v185h-1zM735 503h1v187h-1zM736 507h1v183h-1zM736 503h1v3h-1zM737 503h1v187h-1zM732 161h8v40h-8zM738 509h2v181h-2zM738 503h2v5h-2zM740 511h2v179h-2zM742 505h2v185h-2zM742 501h2v3h-2zM740 161h7v39h-7zM744 501h3v189h-3zM747 507h4v183h-4zM749 503h2v3h-2zM751 503h1v187h-1zM752 240h2v3h-2zM752 244h2v1h-2zM752 503h2v5h-2zM752 511h2v179h-2zM747 161h8v41h-8zM754 510h1v180h-1zM754 240h3v5h-3zM755 509h2v181h-2zM755 505h2v3h-2zM757 215h2v3h-2zM757 219h2v1h-2zM757 505h3v185h-3zM759 460h1v3h-1zM759 389h1v3h-1zM759 464h1v1h-1zM759 384h1v1h-1zM759 499h1v1h-1zM759 393h1v1h-1zM759 490h1v3h-1zM759 380h2v3h-2zM759 494h2v4h-2zM760 393h1v70h-1zM760 384h1v8h-1zM760 499h1v191h-1zM760 464h1v29h-1zM759 215h3v5h-3zM761 380h1v310h-1zM762 505h1v185h-1zM755 161h9v40h-9zM762 460h2v5h-2zM762 380h2v5h-2zM762 389h2v5h-2zM762 490h2v10h-2zM763 505h1v3h-1zM763 509h1v181h-1zM764 482h2v1h-2zM764 478h2v3h-2zM764 161h3v41h-3zM764 505h3v185h-3zM767 509h1v181h-1zM766 478h3v5h-3zM767 205h2v1h-2zM767 161h2v43h-2zM768 506h2v184h-2zM769 161h2v45h-2zM770 503h1v187h-1zM771 507h1v183h-1zM771 201h1v5h-1zM771 503h1v3h-1zM772 503h3v187h-3zM773 455h2v1h-2zM773 451h2v3h-2zM775 502h1v188h-1zM776 502h1v3h-1zM776 506h1v184h-1zM775 451h3v5h-3zM777 502h1v188h-1zM771 161h8v39h-8zM778 502h2v5h-2zM778 510h4v180h-4zM779 161h6v41h-6zM782 505h3v185h-3zM783 501h2v3h-2zM785 161h2v42h-2zM785 204h2v1h-2zM785 501h3v189h-3zM787 161h1v33h-1zM787 196h1v9h-1zM788 161h2v44h-2zM788 510h3v180h-3zM790 507h1v1h-1zM790 503h2v3h-2zM791 507h1v183h-1zM790 161h4v39h-4zM792 503h3v187h-3zM795 506h2v184h-2zM797 510h2v180h-2zM797 495h2v1h-2zM797 491h2v3h-2zM799 509h1v181h-1zM800 509h1v3h-1zM800 513h1v177h-1zM799 491h3v5h-3zM801 509h1v181h-1zM802 508h2v182h-2zM802 504h2v3h-2zM794 161h12v41h-12zM804 504h2v186h-2zM806 504h1v5h-1zM806 510h3v180h-3zM807 371h2v3h-2zM807 375h2v1h-2zM809 509h2v181h-2zM809 505h2v3h-2zM806 161h6v40h-6zM809 371h3v5h-3zM812 161h1v20h-1zM812 183h1v18h-1zM811 505h3v185h-3zM814 510h1v180h-1zM815 338h2v3h-2zM815 342h2v1h-2zM813 161h6v40h-6zM815 505h4v185h-4zM817 338h3v5h-3zM819 161h1v25h-1zM819 511h1v115h-1zM819 505h1v5h-1zM819 188h1v13h-1zM820 182h1v8h-1zM820 161h1v7h-1zM820 170h1v10h-1zM820 192h1v9h-1zM820 687h3v3h-3zM820 507h3v119h-3zM823 494h2v1h-2zM823 490h2v3h-2zM825 504h2v5h-2zM823 511h5v179h-5zM825 490h3v5h-3zM827 508h1v1h-1zM827 504h1v3h-1zM828 504h3v186h-3zM830 479h2v1h-2zM830 501h2v1h-2zM830 475h2v3h-2zM830 497h2v3h-2zM831 507h1v183h-1zM832 507h1v3h-1zM832 511h1v179h-1zM833 507h1v183h-1zM821 161h14v40h-14zM832 497h3v5h-3zM832 475h3v5h-3zM834 505h1v185h-1zM835 505h1v3h-1zM835 509h1v181h-1zM835 161h3v41h-3zM836 505h2v185h-2zM837 489h1v1h-1zM837 475h1v1h-1zM837 492h1v3h-1zM837 482h1v1h-1zM837 485h1v3h-1zM837 499h1v3h-1zM837 478h2v3h-2zM837 471h2v3h-2zM837 503h2v1h-2zM837 496h2v1h-2zM838 489h1v6h-1zM838 498h1v4h-1zM838 475h1v2h-1zM838 482h1v6h-1zM838 505h1v5h-1zM838 511h1v179h-1zM838 206h2v1h-2zM838 225h2v3h-2zM838 229h2v1h-2zM838 161h2v44h-2zM838 235h2v3h-2zM838 239h2v1h-2zM839 486h1v7h-1zM839 494h1v7h-1zM839 478h1v7h-1zM839 471h1v6h-1zM839 502h1v188h-1zM840 471h1v40h-1zM840 512h1v178h-1zM840 161h1v46h-1zM841 471h1v219h-1zM840 225h3v5h-3zM840 235h3v5h-3zM841 202h2v5h-2zM841 161h2v40h-2zM842 498h1v5h-1zM842 482h1v5h-1zM842 490h1v5h-1zM842 474h1v5h-1zM842 508h2v182h-2zM844 511h1v179h-1zM844 475h2v1h-2zM844 433h2v3h-2zM844 411h2v3h-2zM844 495h2v1h-2zM844 408h2v1h-2zM844 426h2v1h-2zM844 457h2v3h-2zM844 482h2v1h-2zM844 453h2v3h-2zM844 471h2v3h-2zM844 467h2v3h-2zM844 437h2v1h-2zM844 491h2v3h-2zM844 422h2v3h-2zM844 415h2v1h-2zM844 461h2v1h-2zM844 404h2v3h-2zM844 478h2v3h-2zM844 400h2v3h-2zM845 506h1v3h-1zM845 510h2v180h-2zM846 400h1v109h-1zM847 400h1v290h-1zM848 433h1v5h-1zM848 478h1v5h-1zM848 491h1v5h-1zM848 411h1v5h-1zM848 422h1v5h-1zM848 467h1v9h-1zM848 453h1v9h-1zM848 506h1v184h-1zM848 400h1v9h-1zM849 505h1v185h-1zM850 505h1v3h-1zM850 509h1v181h-1zM843 161h9v41h-9zM851 505h3v185h-3zM852 210h2v3h-2zM852 214h2v1h-2zM852 501h2v3h-2zM852 161h5v39h-5zM854 210h3v5h-3zM855 486h2v1h-2zM855 482h2v3h-2zM854 501h4v189h-4zM857 482h3v5h-3zM858 511h2v179h-2zM857 161h5v40h-5zM860 510h2v180h-2zM860 506h2v3h-2zM862 506h3v184h-3zM865 505h1v185h-1zM866 509h1v181h-1zM866 505h1v3h-1zM867 505h1v185h-1zM862 161h8v39h-8zM868 505h2v118h-2z"/>
<path fill="#16168e" d="M213 485h1v13h-1zM213 457h1v23h-1zM213 558h1v1h-1zM213 542h1v1h-1zM213 529h1v8h-1zM213 523h1v1h-1zM213 503h1v15h-1zM213 569h1v6h-1zM213 321h1v131h-1zM216 381h1v99h-1zM216 529h1v18h-1zM216 572h1v3h-1zM216 606h1v3h-1zM216 485h1v39h-1zM216 326h1v50h-1zM231 349h1v1h-1zM243 377h1v14h-1zM243 508h1v28h-1zM243 662h1v17h-1zM243 644h1v15h-1zM243 559h1v6h-1zM243 542h1v12h-1zM243 396h1v107h-1zM243 622h1v15h-1zM246 566h1v1h-1zM246 608h1v1h-1zM246 389h1v1h-1zM250 351h1v3h-1zM250 579h1v1h-1zM250 555h1v8h-1zM250 568h1v4h-1zM250 374h1v12h-1zM250 529h1v5h-1zM250 541h1v4h-1zM250 484h1v1h-1zM250 345h1v1h-1zM250 359h1v9h-1zM250 518h1v6h-1zM250 391h1v90h-1zM250 486h1v27h-1zM255 555h1v12h-1zM255 351h1v3h-1zM255 360h1v1h-1zM255 373h1v108h-1zM255 546h1v1h-1zM255 523h1v1h-1zM255 529h1v14h-1zM255 548h1v2h-1zM255 486h1v34h-1zM255 362h1v6h-1zM257 618h1v6h-1zM264 402h1v123h-1zM264 333h1v40h-1zM264 539h1v6h-1zM264 553h1v10h-1zM264 378h1v19h-1zM264 532h1v3h-1zM264 584h1v2h-1zM269 625h1v65h-1zM269 161h1v28h-1zM271 212h1v31h-1zM271 625h1v65h-1zM271 161h1v23h-1zM275 464h1v64h-1zM275 543h1v2h-1zM275 533h1v6h-1zM277 554h1v1h-1zM278 448h1v1h-1zM288 354h1v1h-1zM290 500h1v1h-1zM290 552h1v1h-1zM294 539h1v1h-1zM301 593h1v2h-1zM301 526h1v26h-1zM301 335h1v22h-1zM301 362h1v157h-1zM301 577h1v3h-1zM303 592h1v1h-1zM303 368h1v189h-1zM303 580h1v5h-1zM303 611h1v1h-1zM305 368h1v148h-1zM305 601h1v2h-1zM305 521h1v36h-1zM307 161h1v87h-1zM307 624h1v66h-1zM307 258h1v6h-1zM311 339h1v148h-1zM311 527h1v10h-1zM311 542h1v11h-1zM311 492h1v30h-1zM313 477h1v1h-1zM313 376h1v1h-1zM315 491h1v37h-1zM315 537h1v11h-1zM315 342h1v31h-1zM315 482h1v1h-1zM315 333h1v4h-1zM315 654h1v2h-1zM315 161h1v6h-1zM315 637h1v12h-1zM315 378h1v68h-1zM315 624h1v9h-1zM315 560h1v5h-1zM315 666h1v24h-1zM315 531h1v1h-1zM315 451h1v23h-1zM317 507h1v21h-1zM317 557h1v16h-1zM317 491h1v11h-1zM317 346h1v1h-1zM317 391h1v1h-1zM317 360h1v13h-1zM317 393h1v53h-1zM317 378h1v10h-1zM317 533h1v19h-1zM317 601h1v8h-1zM317 451h1v23h-1zM317 586h1v1h-1zM322 524h1v1h-1zM324 209h1v16h-1zM324 631h1v28h-1zM324 261h1v9h-1zM324 161h1v41h-1zM324 231h1v14h-1zM324 665h1v25h-1zM324 276h1v6h-1zM327 333h1v43h-1zM327 533h1v7h-1zM327 448h1v73h-1zM327 441h1v2h-1zM327 543h1v5h-1zM327 381h1v55h-1zM329 558h1v1h-1zM342 536h1v1h-1zM343 525h1v1h-1zM345 508h1v14h-1zM345 531h1v2h-1zM345 345h1v24h-1zM345 374h1v129h-1zM345 539h1v1h-1zM350 333h1v8h-1zM350 449h1v1h-1zM350 512h1v6h-1zM350 374h1v72h-1zM350 346h1v13h-1zM350 364h1v5h-1zM350 526h1v19h-1zM350 548h1v1h-1zM350 451h1v52h-1zM350 550h1v8h-1zM352 333h1v8h-1zM352 526h1v14h-1zM352 451h1v54h-1zM352 512h1v6h-1zM352 364h1v82h-1zM352 566h1v2h-1zM352 349h1v10h-1zM352 550h1v8h-1zM354 552h1v1h-1zM355 528h1v1h-1zM362 334h1v167h-1zM362 506h1v48h-1zM371 561h1v5h-1zM371 555h1v1h-1zM371 502h1v32h-1zM371 541h1v9h-1zM371 500h1v1h-1zM371 351h1v146h-1zM371 337h1v9h-1zM371 539h1v1h-1zM373 502h1v20h-1zM373 351h1v146h-1zM373 528h1v7h-1zM373 337h1v9h-1zM373 541h1v4h-1zM378 575h1v1h-1zM379 350h1v1h-1zM379 364h1v1h-1zM381 370h1v1h-1zM381 476h1v52h-1zM381 345h1v2h-1zM381 366h1v1h-1zM381 372h1v99h-1zM381 474h1v1h-1zM381 535h1v6h-1zM381 352h1v9h-1zM391 596h1v1h-1zM393 174h1v62h-1zM394 258h1v52h-1zM395 161h1v75h-1zM395 624h1v7h-1zM395 642h1v48h-1zM396 262h1v13h-1zM400 280h1v16h-1zM402 506h1v1h-1zM403 637h1v42h-1zM413 521h1v4h-1zM413 532h1v5h-1zM413 371h1v146h-1zM413 336h1v30h-1zM438 512h1v1h-1zM438 466h1v1h-1zM533 520h1v7h-1zM533 364h1v9h-1zM533 427h1v7h-1zM533 400h1v17h-1zM533 473h1v21h-1zM533 384h1v13h-1zM533 444h1v22h-1zM533 504h1v12h-1zM533 341h1v8h-1zM533 534h1v1h-1zM536 384h1v60h-1zM536 543h1v1h-1zM536 449h1v72h-1zM536 360h1v13h-1zM536 447h1v1h-1zM548 411h1v1h-1zM557 473h1v1h-1zM557 362h1v1h-1zM569 441h1v8h-1zM569 345h1v91h-1zM569 516h1v11h-1zM569 454h1v56h-1zM590 161h1v3h-1zM590 627h1v6h-1zM590 638h1v9h-1zM591 171h1v1h-1zM593 161h1v3h-1zM593 655h1v35h-1zM595 444h1v1h-1zM595 522h1v2h-1zM595 423h1v1h-1zM595 355h1v1h-1zM595 188h1v1h-1zM595 477h1v1h-1zM597 190h1v162h-1zM597 446h1v24h-1zM597 425h1v16h-1zM597 357h1v63h-1zM601 483h1v1h-1zM603 487h1v1h-1zM603 515h1v1h-1zM603 489h1v23h-1zM605 489h1v23h-1zM605 674h1v1h-1zM607 657h1v14h-1zM607 489h1v20h-1zM607 437h1v1h-1zM609 439h1v43h-1zM609 487h1v22h-1zM614 489h1v1h-1zM616 491h1v21h-1zM618 511h1v1h-1zM618 657h1v1h-1zM620 492h1v1h-1zM622 494h1v12h-1zM626 428h1v1h-1zM626 377h1v1h-1zM627 689h1v1h-1zM627 657h1v1h-1zM629 659h1v27h-1zM631 433h1v1h-1zM631 478h1v1h-1zM631 487h1v1h-1zM631 462h1v1h-1zM631 498h1v1h-1zM631 448h1v1h-1zM636 504h1v1h-1zM638 193h1v1h-1zM638 182h1v1h-1zM638 675h1v1h-1zM640 677h1v13h-1zM640 657h1v15h-1zM640 184h1v6h-1zM640 161h1v18h-1zM642 685h1v1h-1zM644 656h1v26h-1zM645 504h1v1h-1zM648 481h1v1h-1zM650 483h1v18h-1zM651 175h1v1h-1zM651 666h1v1h-1zM653 656h1v7h-1zM653 668h1v22h-1zM653 161h1v11h-1zM654 191h1v1h-1zM656 168h1v4h-1zM656 672h1v13h-1zM656 166h1v1h-1zM656 670h1v1h-1zM656 656h1v7h-1zM656 161h1v2h-1zM656 177h1v11h-1zM658 161h1v2h-1zM661 161h1v2h-1zM661 168h1v17h-1zM665 372h1v1h-1zM665 395h1v1h-1zM665 463h1v1h-1zM665 501h1v1h-1zM665 471h1v1h-1zM665 660h1v1h-1zM665 435h1v1h-1zM667 374h1v18h-1zM667 654h1v3h-1zM677 493h1v1h-1zM679 495h1v12h-1zM681 443h1v1h-1zM681 433h1v1h-1zM681 479h1v1h-1zM681 417h1v1h-1zM681 463h1v1h-1zM681 385h1v1h-1zM681 398h1v1h-1zM681 352h1v1h-1zM681 358h1v1h-1zM681 390h1v1h-1zM681 467h1v1h-1zM683 486h1v1h-1zM683 471h1v1h-1zM683 499h1v1h-1zM683 652h1v38h-1zM683 161h1v188h-1zM683 451h1v1h-1zM688 503h1v1h-1zM701 491h1v1h-1zM701 479h1v1h-1zM703 493h1v14h-1zM703 481h1v7h-1zM705 505h1v1h-1zM706 669h1v1h-1zM706 658h1v1h-1zM706 671h1v1h-1zM706 663h1v1h-1zM706 675h1v1h-1zM708 665h1v1h-1zM708 652h1v3h-1zM709 167h1v1h-1zM709 182h1v1h-1zM709 175h1v1h-1zM710 652h1v3h-1zM711 187h1v1h-1zM711 171h1v1h-1zM711 177h1v2h-1zM712 654h1v1h-1zM713 211h1v1h-1zM713 177h1v1h-1zM714 669h1v1h-1zM714 655h1v1h-1zM714 661h1v1h-1zM714 675h1v15h-1zM714 505h1v1h-1zM715 175h1v3h-1zM715 190h1v18h-1zM715 183h1v1h-1zM716 675h1v1h-1zM716 667h1v3h-1zM716 660h1v2h-1zM717 168h1v2h-1zM717 161h1v1h-1zM719 489h1v1h-1zM719 449h1v1h-1zM719 500h1v1h-1zM721 491h1v6h-1zM721 451h1v35h-1zM721 502h1v4h-1zM726 370h1v1h-1zM726 379h1v1h-1zM726 243h1v1h-1zM726 366h1v1h-1zM726 507h1v1h-1zM726 356h1v1h-1zM726 473h1v1h-1zM728 652h1v38h-1zM728 245h1v108h-1zM728 161h1v79h-1zM742 504h1v1h-1zM749 506h1v1h-1zM752 243h1v1h-1zM754 202h1v38h-1zM755 508h1v1h-1zM757 218h1v1h-1zM759 463h1v1h-1zM759 392h1v1h-1zM759 201h1v14h-1zM759 498h1v1h-1zM759 493h1v1h-1zM759 383h1v1h-1zM761 201h1v14h-1zM761 220h1v160h-1zM764 481h1v1h-1zM766 483h1v22h-1zM767 204h1v1h-1zM773 454h1v1h-1zM775 456h1v46h-1zM783 504h1v1h-1zM785 203h1v1h-1zM790 506h1v1h-1zM797 494h1v1h-1zM799 496h1v13h-1zM802 507h1v1h-1zM807 374h1v1h-1zM809 376h1v129h-1zM809 508h1v1h-1zM809 201h1v170h-1zM815 341h1v1h-1zM817 201h1v137h-1zM817 343h1v162h-1zM823 493h1v1h-1zM825 509h1v1h-1zM825 495h1v9h-1zM830 478h1v1h-1zM830 500h1v1h-1zM832 480h1v17h-1zM832 502h1v5h-1zM837 502h1v1h-1zM837 495h1v1h-1zM837 488h1v1h-1zM837 481h1v1h-1zM837 474h1v1h-1zM838 205h1v1h-1zM838 477h1v1h-1zM838 238h1v1h-1zM838 228h1v1h-1zM840 207h1v18h-1zM840 230h1v5h-1zM844 425h1v1h-1zM844 414h1v1h-1zM844 494h1v1h-1zM844 407h1v1h-1zM844 456h1v1h-1zM844 436h1v1h-1zM844 481h1v1h-1zM844 474h1v1h-1zM844 403h1v1h-1zM844 460h1v1h-1zM844 470h1v1h-1zM845 509h1v1h-1zM852 504h1v1h-1zM852 213h1v1h-1zM854 200h1v10h-1zM855 485h1v1h-1zM857 487h1v14h-1zM860 509h1v1h-1z"/>
<path fill="#16168e" d="M102 160h872v1h-872zM102 690h872v1h-872zM102 160h1v531h-1zM973 160h1v531h-1z"/>
</g>
<text x="464.6" y="38" font-size="25.5" text-anchor="start" textLength="95" lengthAdjust="spacing">Tsikada</text>
<text x="478.5" y="738.9" font-size="24" text-anchor="start" textLength="55.5" lengthAdjust="spacing">Time</text>
<text x="536.2" y="738.9" font-size="24" text-anchor="start" textLength="60.5" lengthAdjust="spacingAndGlyphs">(UTC)</text>
<text x="313.3" y="710.3" font-size="19" text-anchor="middle" textLength="45" lengthAdjust="spacingAndGlyphs">2000</text>
<text x="524.8" y="710.3" font-size="19" text-anchor="middle" textLength="45" lengthAdjust="spacingAndGlyphs">2010</text>
<text x="736.8" y="710.3" font-size="19" text-anchor="middle" textLength="45" lengthAdjust="spacingAndGlyphs">2020</text>
<text x="948.3" y="710.3" font-size="19" text-anchor="middle" textLength="45" lengthAdjust="spacingAndGlyphs">2030</text>
<text x="92.5" y="255" font-size="18.8" text-anchor="end" textLength="32" lengthAdjust="spacingAndGlyphs">120</text>
<text x="92.5" y="431" font-size="18.8" text-anchor="end" textLength="22" lengthAdjust="spacingAndGlyphs">00</text>
<text x="92.5" y="608" font-size="18.8" text-anchor="end" textLength="32" lengthAdjust="spacingAndGlyphs">120</text>
<rect x="46" y="602" width="11" height="1" fill="#16168e" shape-rendering="crispEdges"/>
<g transform="translate(22,499.4) rotate(-90)" font-size="24"><text x="0" y="0" textLength="52" lengthAdjust="spacing">Long</text><text x="65.4" y="0" textLength="11.6" lengthAdjust="spacingAndGlyphs">E</text><text x="91.3" y="0" textLength="55.6" lengthAdjust="spacing">(deg)</text></g>
</svg>
</body></html>
